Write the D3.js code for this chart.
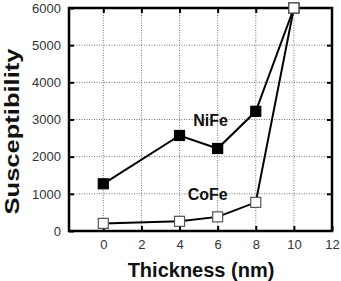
<!DOCTYPE html>
<html>
<head>
<meta charset="utf-8">
<script src="https://cdn.jsdelivr.net/npm/d3@7"></script>
<style>
  body { margin: 0; background: #fff; }
  text { font-family: Arial, "Liberation Sans", sans-serif; }
</style>
</head>
<body>
<script>
// data
const thickness = [0, 4, 6, 8, 10];
const nife = [1270, 2570, 2220, 3220, 6000];
const cofe = [205, 260, 380, 770, 6000];
const xTicks = [0, 2, 4, 6, 8, 10, 12];
const yTicks = [0, 1000, 2000, 3000, 4000, 5000, 6000];

const W = 341, H = 281;
const m = {left: 69, right: 9, top: 8, bottom: 50};

const svg = d3.select("body").append("svg")
    .attr("width", W).attr("height", H);

const x = d3.scaleLinear().domain([-1.8, 12]).range([m.left, W - m.right]);
const y = d3.scaleLinear().domain([0, 6000]).range([H - m.bottom, m.top]);

// dotted grid
svg.append("g").selectAll("line")
   .data(xTicks.filter(d => d < 12))
   .enter().append("line")
     .attr("x1", d => x(d)).attr("x2", d => x(d))
     .attr("y1", y(0)).attr("y2", y(6000))
     .attr("stroke", "#777").attr("stroke-width", 1)
     .attr("stroke-dasharray", "1,1.5");
svg.append("g").selectAll("line")
   .data(yTicks.filter(d => d > 0 && d < 6000))
   .enter().append("line")
     .attr("x1", x(-1.8)).attr("x2", x(12))
     .attr("y1", d => y(d)).attr("y2", d => y(d))
     .attr("stroke", "#777").attr("stroke-width", 1)
     .attr("stroke-dasharray", "1,1.5");

// axes, ticks pointing inside
const axisStyle = g => {
    g.select(".domain").remove();
    g.selectAll(".tick line").attr("stroke", "#000").attr("stroke-width", 2);
    g.selectAll(".tick text").attr("fill", "#333").attr("font-size", 13);
};
svg.append("g")
   .attr("transform", `translate(0,${y(0)})`)
   .call(d3.axisBottom(x).tickValues(xTicks).tickSize(-5).tickPadding(9))
   .call(axisStyle);
svg.append("g")
   .attr("transform", `translate(0,${y(6000)})`)
   .call(d3.axisTop(x).tickValues(xTicks.filter(d => d < 12)).tickSize(-5).tickFormat(""))
   .call(axisStyle);
svg.append("g")
   .attr("transform", `translate(${x(-1.8)},0)`)
   .call(d3.axisLeft(y).tickValues(yTicks).tickSize(-5).tickPadding(8).tickFormat(d3.format("d")))
   .call(axisStyle);
svg.append("g")
   .attr("transform", `translate(${x(12)},0)`)
   .call(d3.axisRight(y).tickValues(yTicks.filter(d => d > 0 && d < 6000)).tickSize(-5).tickFormat(""))
   .call(axisStyle);

// frame
svg.append("rect")
   .attr("x", x(-1.8)).attr("y", y(6000))
   .attr("width", x(12) - x(-1.8)).attr("height", y(0) - y(6000))
   .attr("fill", "none").attr("stroke", "#000").attr("stroke-width", 2.5);

const line = d3.line().x(d => x(d[0])).y(d => y(d[1]));
const series = [
    {name: "NiFe", vals: nife, fill: "#000", stroke: "#000"},
    {name: "CoFe", vals: cofe, fill: "#fff", stroke: "#555"}
];

series.forEach(s => {
    const pts = thickness.map((t, i) => [t, s.vals[i]]);
    svg.append("path")
       .attr("d", line(pts))
       .attr("fill", "none").attr("stroke", "#000").attr("stroke-width", 2);
});
series.forEach(s => {
    const pts = thickness.map((t, i) => [t, s.vals[i]]);
    svg.append("g").selectAll("rect")
       .data(pts).enter().append("rect")
         .attr("x", d => x(d[0]) - 5).attr("y", d => y(d[1]) - 5)
         .attr("width", 10).attr("height", 10)
         .attr("fill", s.fill).attr("stroke", s.stroke).attr("stroke-width", 1.2);
});

// series labels
svg.append("text").text("NiFe")
   .attr("x", x(6) - 7).attr("y", y(2830))
   .attr("text-anchor", "middle").attr("font-size", 16).attr("font-weight", "bold")
   .attr("fill", "#111");
svg.append("text").text("CoFe")
   .attr("x", x(6) - 10).attr("y", y(830))
   .attr("text-anchor", "middle").attr("font-size", 16).attr("font-weight", "bold")
   .attr("fill", "#111");

// axis titles
svg.append("text").text("Thickness (nm)")
   .attr("x", 201).attr("y", 277)
   .attr("text-anchor", "middle").attr("font-size", 20).attr("font-weight", "bold")
   .attr("fill", "#111");
svg.append("text").text("Susceptibility")
   .attr("transform", "translate(19,131.5) rotate(-90)")
   .attr("text-anchor", "middle").attr("font-size", 20).attr("font-weight", "bold")
   .attr("textLength", 166).attr("lengthAdjust", "spacingAndGlyphs")
   .attr("fill", "#111");
</script>
</body>
</html>
